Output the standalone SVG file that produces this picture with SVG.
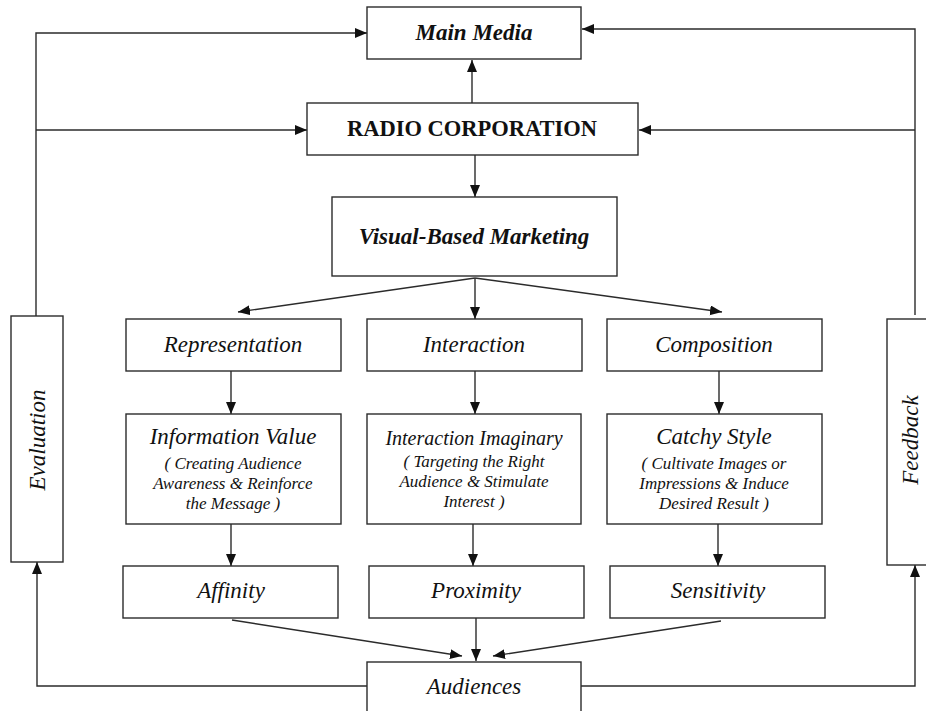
<svg xmlns="http://www.w3.org/2000/svg" width="926" height="711" viewBox="0 0 926 711">
  <style>
    .box { fill: #ffffff; stroke: #2b2b2b; stroke-width: 1.4; }
    .wire { fill: none; stroke: #2b2b2b; stroke-width: 1.4; }
    text { font-family: 'Liberation Serif', 'DejaVu Serif', serif; fill: #111111; text-anchor: middle; }
    .bi { font-weight: bold; font-style: italic; font-size: 23px; }
    .b { font-weight: bold; font-size: 22.5px; }
    .i { font-style: italic; font-size: 23px; }
    .i20 { font-style: italic; font-size: 20px; }
    .s { font-style: italic; font-size: 17px; }
  </style>
  <defs>
    <marker id="arrow" markerUnits="userSpaceOnUse" markerWidth="13" markerHeight="11" refX="12" refY="5" orient="auto">
      <path d="M0,0 L12,5 L0,10 z" fill="#111111"/>
    </marker>
  </defs>

  <!-- connectors -->
  <g id="connectors" class="wire" marker-end="url(#arrow)">
    <path d="M36,316 V33 H367"/>
    <path d="M36,130 H307"/>
    <path d="M915,315 V29 H582"/>
    <path d="M915,130 H639"/>
    <path d="M472,103 V60"/>
    <path d="M475,155 V197"/>
    <path d="M475,278 L238,312"/>
    <path d="M475,278 V319"/>
    <path d="M475,278 L722,312"/>
    <path d="M231,371 V414"/>
    <path d="M475,371 V414"/>
    <path d="M719,371 V414"/>
    <path d="M231,524 V566"/>
    <path d="M473,524 V566"/>
    <path d="M718,524 V566"/>
    <path d="M232,620 L462,656"/>
    <path d="M476,618 V661"/>
    <path d="M721,621 L493,656"/>
    <path d="M367,686 H37 V562"/>
    <path d="M581,686 H915 V565"/>
  </g>

  <g font-family="Liberation Serif, serif">
    <g id="main-media">
      <rect class="box" x="367" y="7" width="214" height="52"/>
      <text class="bi" x="474" y="40">Main Media</text>
    </g>

    <g id="radio-corporation">
      <rect class="box" x="307" y="103" width="331" height="52"/>
      <text class="b" x="472" y="136">RADIO CORPORATION</text>
    </g>

    <g id="visual-based-marketing">
      <rect class="box" x="332" y="197" width="285" height="79"/>
      <text class="bi" x="474" y="244">Visual-Based Marketing</text>
    </g>

    <g id="representation">
      <rect class="box" x="126" y="319" width="215" height="52"/>
      <text class="i" x="233" y="352">Representation</text>
    </g>

    <g id="interaction">
      <rect class="box" x="367" y="319" width="215" height="52"/>
      <text class="i" x="474" y="352">Interaction</text>
    </g>

    <g id="composition">
      <rect class="box" x="607" y="319" width="215" height="52"/>
      <text class="i" x="714" y="352">Composition</text>
    </g>

    <g id="information-value">
      <rect class="box" x="126" y="414" width="215" height="110"/>
      <text class="i" x="233" y="444">Information Value</text>
      <text class="s" x="233" y="469">( Creating Audience</text>
      <text class="s" x="233" y="489">Awareness &amp; Reinforce</text>
      <text class="s" x="233" y="509">the Message )</text>
    </g>

    <g id="interaction-imaginary">
      <rect class="box" x="367" y="414" width="214" height="110"/>
      <text class="i20" x="474" y="445">Interaction Imaginary</text>
      <text class="s" x="474" y="467">( Targeting the Right</text>
      <text class="s" x="474" y="487">Audience &amp; Stimulate</text>
      <text class="s" x="474" y="507">Interest )</text>
    </g>

    <g id="catchy-style">
      <rect class="box" x="607" y="414" width="215" height="110"/>
      <text class="i" x="714" y="444">Catchy Style</text>
      <text class="s" x="714" y="469">( Cultivate Images or</text>
      <text class="s" x="714" y="489">Impressions &amp; Induce</text>
      <text class="s" x="714" y="509">Desired Result )</text>
    </g>

    <g id="affinity">
      <rect class="box" x="123" y="566" width="215" height="52"/>
      <text class="i" x="231" y="598">Affinity</text>
    </g>

    <g id="proximity">
      <rect class="box" x="369" y="566" width="215" height="52"/>
      <text class="i" x="476" y="598">Proximity</text>
    </g>

    <g id="sensitivity">
      <rect class="box" x="610" y="566" width="215" height="52"/>
      <text class="i" x="718" y="598">Sensitivity</text>
    </g>

    <g id="audiences">
      <rect class="box" x="367" y="662" width="214" height="60"/>
      <text class="i" x="474" y="694">Audiences</text>
    </g>

    <g id="evaluation">
      <rect class="box" x="11" y="316" width="52" height="246"/>
      <text class="i" transform="translate(45,440) rotate(-90)">Evaluation</text>
    </g>

    <g id="feedback">
      <rect class="box" x="887" y="319" width="52" height="246"/>
      <text class="i" transform="translate(918,440) rotate(-90)">Feedback</text>
    </g>
  </g>
</svg>
